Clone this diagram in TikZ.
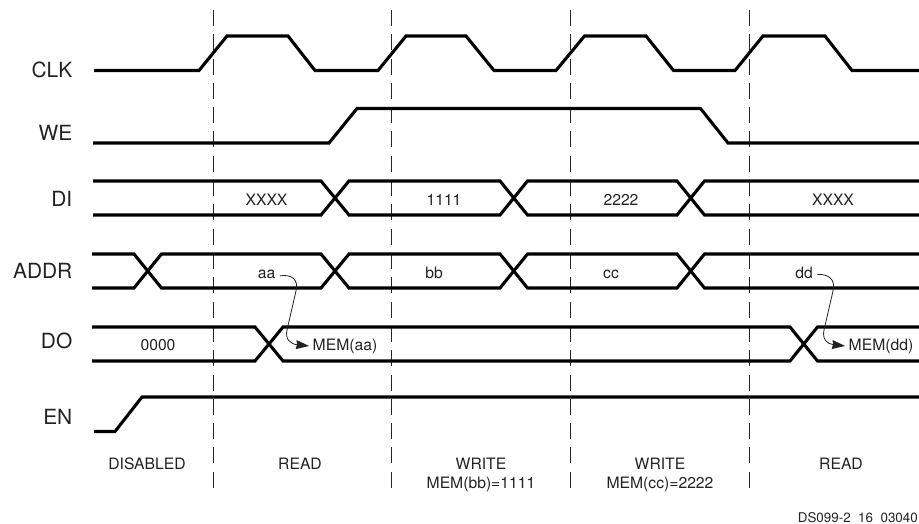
\documentclass[tikz,border=0pt]{standalone}
\usepackage{fontspec}
\setmainfont{TeX Gyre Heros}
\usetikzlibrary{arrows.meta}
\definecolor{ink}{HTML}{222222}
\tikzset{
  wave/.style={line width=3.1pt,line join=miter,line cap=butt,black},
  marker/.style={line width=1pt,black!85,dash pattern=on 16pt off 8.3pt},
  siglabel/.style={font=\fontsize{20.9pt}{24pt}\selectfont,text=ink,anchor=base east,inner sep=0pt},
  txt/.style={font=\fontsize{15.7pt}{19pt}\selectfont,text=ink,anchor=base,inner sep=0pt},
  foot/.style={font=\fontsize{13.4pt}{16pt}\selectfont,text=ink,anchor=base east,inner sep=0pt},
  flow/.style={line width=0.8pt,ink,-{Stealth[length=13pt,width=9pt,inset=1pt,ink]}},
}
\begin{document}
\begin{tikzpicture}[x=1pt,y=-1pt]
\useasboundingbox (0,0) rectangle (919,524);
% phase markers
\foreach \x/\n in {213/a,391.5/b,570/c,749/d}{
  \coordinate (m\n top) at (\x,10);
  \coordinate (m\n bot) at (\x,490);
  \draw[marker] (m\n top) -- (m\n bot);
}
% signal names
\node[siglabel] (lclk) at (72.5,78) {CLK};
\node[siglabel] (lwe) at (72.5,141) {WE};
\node[siglabel] (ldi) at (72.5,207) {DI};
\node[siglabel] (laddr) at (72.5,278) {ADDR};
\node[siglabel] (ldo) at (72.5,348) {DO};
\node[siglabel] (len) at (72.5,424) {EN};
% CLK
\draw[wave] (94,70.5) -- (199,70.5) -- (227,36) -- (288,36) -- (315,70.5) -- (378,70.5) -- (406,36) -- (466,36) -- (494,70.5) -- (556,70.5) -- (584.5,36) -- (646,36) -- (673.5,70.5) -- (735,70.5) -- (763,36) -- (825,36) -- (852,70.5) -- (919,70.5);
% WE
\draw[wave] (93,143) -- (329,143) -- (357,108.5) -- (700.5,108.5) -- (728,143) -- (919,143);
% DI
\draw[wave] (93,181) -- (321,181) -- (349,215) -- (500,215) -- (527.5,181) -- (677,181) -- (704.5,215) -- (919,215);
\draw[wave] (93,215) -- (321,215) -- (349,181) -- (500,181) -- (527.5,215) -- (677,215) -- (704.5,181) -- (919,181);
% ADDR
\draw[wave] (92,254) -- (134,254) -- (161.5,288) -- (321,288) -- (349,254) -- (500,254) -- (527.5,288) -- (677,288) -- (704.5,254) -- (919,254);
\draw[wave] (92,288) -- (134,288) -- (161.5,254) -- (321,254) -- (349,288) -- (500,288) -- (527.5,254) -- (677,254) -- (704.5,288) -- (919,288);
% DO
\draw[wave] (92,327) -- (255,327) -- (283,361) -- (790,361) -- (817.5,327) -- (919,327);
\draw[wave] (92,361) -- (255,361) -- (283,327) -- (790,327) -- (817.5,361) -- (919,361);
% EN
\draw[wave] (94,431.5) -- (115,431.5) -- (142,397) -- (919,397);
% bus values
\node[txt] (xa) at (266.5,205.5) {XXXX};
\node[txt] (v1) at (444,205.5) {1111};
\node[txt] (v2) at (621,205.5) {2222};
\node[txt] (xb) at (833,205.5) {XXXX};
\node[txt,inner xsep=4.5pt] (aa) at (266.5,278) {aa};
\node[txt] (bb) at (434,278) {bb};
\node[txt] (cc) at (611,278) {cc};
\node[txt,inner xsep=4.5pt] (dd) at (804,278) {dd};
\node[txt] (v0) at (158,350) {0000};
\node[txt,inner xsep=3.5pt] (memaa) at (345,350) {MEM(aa)};
\node[txt,inner xsep=3.5pt] (memdd) at (881,350) {MEM(dd)};
% access arrows
\draw[flow] ([yshift=-2pt]aa.east) .. controls (291,274) and (299,279) .. (296,291) -- (287,330) .. controls (285,339) and (290,344) .. (memaa.west);
\draw[flow] ([yshift=-2pt]dd.east) .. controls (828,274) and (836,279) .. (833,291) -- (824,330) .. controls (822,339) and (827,344) .. (memdd.west);
% phases
\node[txt] (p1) at (147,469) {DISABLED};
\node[txt] (p2) at (300,469) {READ};
\node[txt,align=center] (p3) at (481,488) {WRITE\\MEM(bb)=1111};
\node[txt,align=center] (p4) at (660,488) {WRITE\\MEM(cc)=2222};
\node[txt] (p5) at (841,469) {READ};
\node[foot] (ref) at (918,522.5) {DS099-2\ \ 16\ \ 03040};
\end{tikzpicture}
\end{document}
